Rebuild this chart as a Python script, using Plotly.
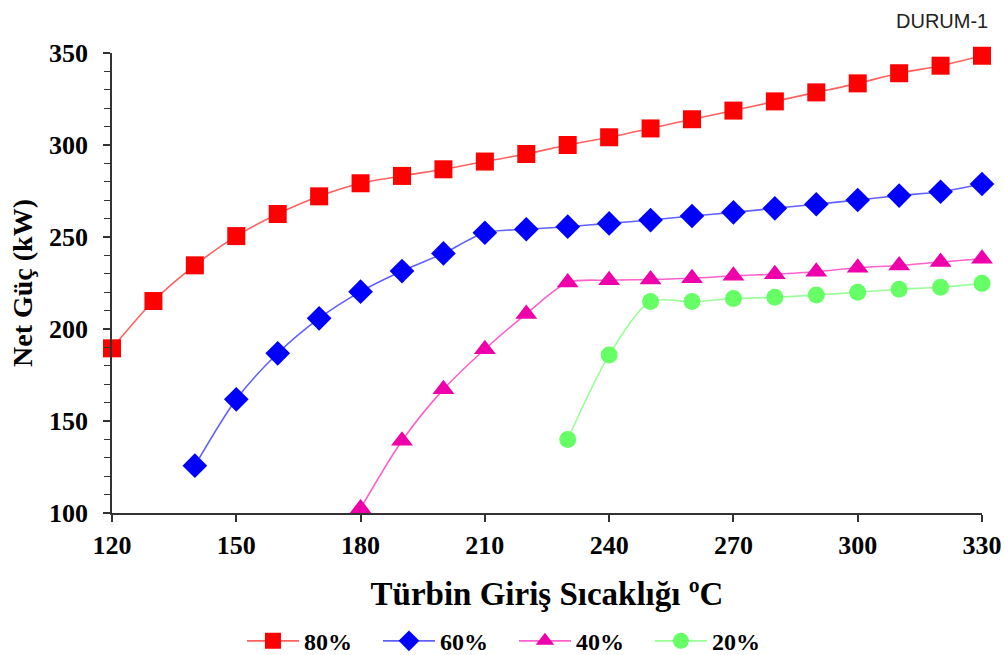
import plotly.graph_objects as go

x80 = [120, 130, 140, 150, 160, 170, 180, 190, 200, 210, 220, 230, 240, 250, 260, 270, 280, 290, 300, 310, 320, 330]
y80 = [189.5, 215.2, 234.6, 250.5, 262.5, 272.1, 279.2, 283.2, 286.8, 291.0, 295.1, 300.0, 304.2, 309.0, 314.0, 318.7, 323.7, 328.6, 333.5, 339.0, 343.1, 348.5]

x60 = [140, 150, 160, 170, 180, 190, 200, 210, 220, 230, 240, 250, 260, 270, 280, 290, 300, 310, 320, 330]
y60 = [125.7, 161.8, 186.8, 205.8, 220.3, 231.5, 241.1, 252.3, 254.2, 255.6, 257.4, 259.2, 261.4, 263.4, 265.6, 267.8, 270.1, 272.5, 274.6, 278.8]

x40 = [180, 190, 200, 210, 220, 230, 240, 250, 260, 270, 280, 290, 300, 310, 320, 330]
y40 = [102.5, 139.3, 167.2, 189.0, 208.2, 225.3, 226.5, 226.9, 227.6, 228.9, 229.8, 231.1, 233.3, 234.5, 236.4, 238.2]

x20 = [230, 240, 250, 260, 270, 280, 290, 300, 310, 320, 330]
y20 = [140.0, 185.9, 214.9, 214.9, 216.6, 217.2, 218.5, 220.0, 221.6, 222.7, 224.8]

xticks = [120, 150, 180, 210, 240, 270, 300, 330]
yticks = [100, 150, 200, 250, 300, 350]

series = [
    ("80%", x80, y80, "square", 18, "#FF0000", "#FF6060"),
    ("60%", x60, y60, "diamond", 19, "#0000FF", "#6060FF"),
    ("40%", x40, y40, "triangle-up", 19, "#EE00AA", "#FF60CC"),
    ("20%", x20, y20, "circle", 17, "#66FF66", "#99FF99"),
]

fig = go.Figure()
for name, xs, ys, sym, sz, mc, lc in series:
    fig.add_trace(go.Scatter(
        x=xs, y=ys, name=name, mode="lines+markers",
        line=dict(color=lc, width=1.6, shape="spline", smoothing=0.8),
        marker=dict(symbol=sym, size=sz, color=mc, line=dict(width=0)),
        cliponaxis=False,
    ))

tick_font = dict(family="Liberation Serif", size=26, color="black", weight="bold")

fig.update_layout(
    width=1004, height=655,
    margin=dict(l=112, r=22, t=53, b=142, autoexpand=False),
    paper_bgcolor="white", plot_bgcolor="white",
    showlegend=True,
    legend=dict(
        orientation="h", xref="container", yref="container",
        x=0.241, xanchor="left", y=0.021, yanchor="middle",
        font=dict(family="Liberation Serif", size=24, color="black", weight="bold"),
        itemwidth=52, entrywidth=69, entrywidthmode="pixels", tracegroupgap=0,
    ),
    xaxis=dict(
        range=[120, 330], tickvals=xticks, automargin=False,
        showgrid=False, zeroline=False, showline=True, linecolor="#333333", linewidth=1.5,
        ticks="outside", ticklen=7, tickcolor="#333333", tickwidth=1.5,
        tickfont=tick_font, ticklabelstandoff=1,
        title=dict(text="Türbin Giriş Sıcaklığı ºC",
                   font=dict(family="Liberation Serif", size=33, color="black", weight="bold"),
                   standoff=23),
    ),
    yaxis=dict(
        range=[100, 350], tickvals=yticks, automargin=False,
        showgrid=False, zeroline=False, showline=True, linecolor="#333333", linewidth=1.5,
        ticks="outside", ticklen=7, tickcolor="#333333", tickwidth=1.5,
        tickfont=tick_font, ticklabelstandoff=10,
        minor=dict(dtick=10, ticks="outside", ticklen=6, tickcolor="#333333", tickwidth=1.2, showgrid=False),
        title=dict(text="Net Güç (kW)",
                   font=dict(family="Liberation Serif", size=28, color="black", weight="bold"),
                   standoff=8),
    ),
    annotations=[dict(
        text="DURUM-1", xref="paper", yref="paper", x=1.0, y=1.0, xshift=8, yshift=32,
        xanchor="right", yanchor="middle", showarrow=False,
        font=dict(family="Liberation Sans", size=20, color="#222222"),
    )],
)

fig.write_html("out.html")
